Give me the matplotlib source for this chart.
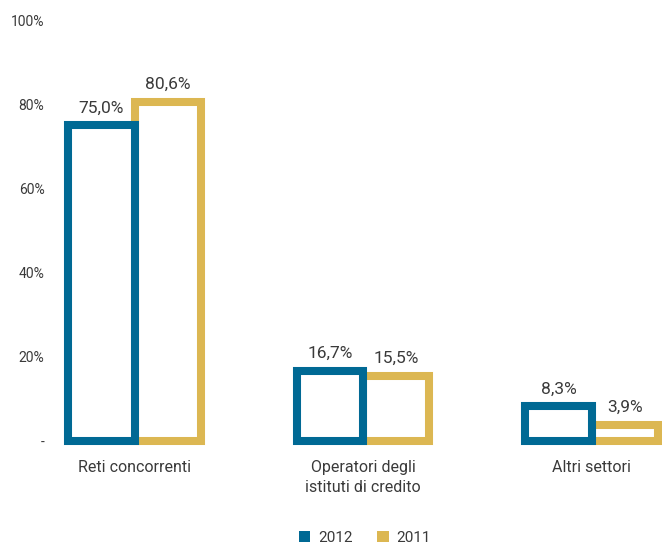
import numpy as np
import matplotlib
matplotlib.use('Agg')
import matplotlib.pyplot as plt
from matplotlib.patches import Patch

categories = ['Reti concorrenti', 'Operatori degli\nistituti di credito', 'Altri settori']
vals_2012 = [75.0, 16.7, 8.3]
vals_2011 = [80.6, 15.5, 3.9]
yticks = [0, 20, 40, 60, 80, 100]
ytick_labels = ['-', '20%', '40%', '60%', '80%', '100%']

blue = '#006994'
gold = '#dcb752'
txt = '#3a3a3a'

plt.rcParams['font.family'] = ['Roboto', 'DejaVu Sans']

fig = plt.figure(figsize=(6.62, 5.48), dpi=100)
ax = fig.add_axes([50/662, 107/548, 1 - 50/662, (441-20)/548])

x = np.arange(len(categories))
w = 0.29
lw = 5.8

b1 = ax.bar(x - w/2, vals_2012, w, facecolor='white', edgecolor=blue, linewidth=lw, clip_on=False, zorder=3)
b2 = ax.bar(x + w/2, vals_2011, w, facecolor='white', edgecolor=gold, linewidth=lw, clip_on=False, zorder=2)

for bars, vals in [(b1, vals_2012), (b2, vals_2011)]:
    for r, v in zip(bars, vals):
        ax.annotate(('%.1f%%' % v).replace('.', ','), (r.get_x() + r.get_width()/2, v),
                    xytext=(0, 7), textcoords='offset points', ha='center', va='bottom',
                    fontsize=12.5, color=txt)

ax.set_xlim(-0.37, 2.3075)
ax.set_ylim(0, 100)
ax.set_yticks(yticks)
ax.set_yticklabels(ytick_labels, fontsize=10, color=txt)
ax.set_xticks(x)
ax.set_xticklabels(categories, fontsize=11.5, color=txt, va='top', linespacing=1.35)
ax.tick_params(axis='both', length=0)
ax.tick_params(axis='x', pad=14)
ax.tick_params(axis='y', pad=4)
for s in ax.spines.values():
    s.set_visible(False)

handles = [Patch(facecolor=blue, edgecolor='none'), Patch(facecolor=gold, edgecolor='none')]
fig.legend(handles, ['2012', '2011'], loc='lower center', bbox_to_anchor=(0.551, -0.02),
           ncol=2, frameon=False, fontsize=11, handlelength=0.75, handleheight=0.75,
           handletextpad=0.5, columnspacing=1.6, labelcolor=txt)

fig.savefig('out.png', dpi=100)
